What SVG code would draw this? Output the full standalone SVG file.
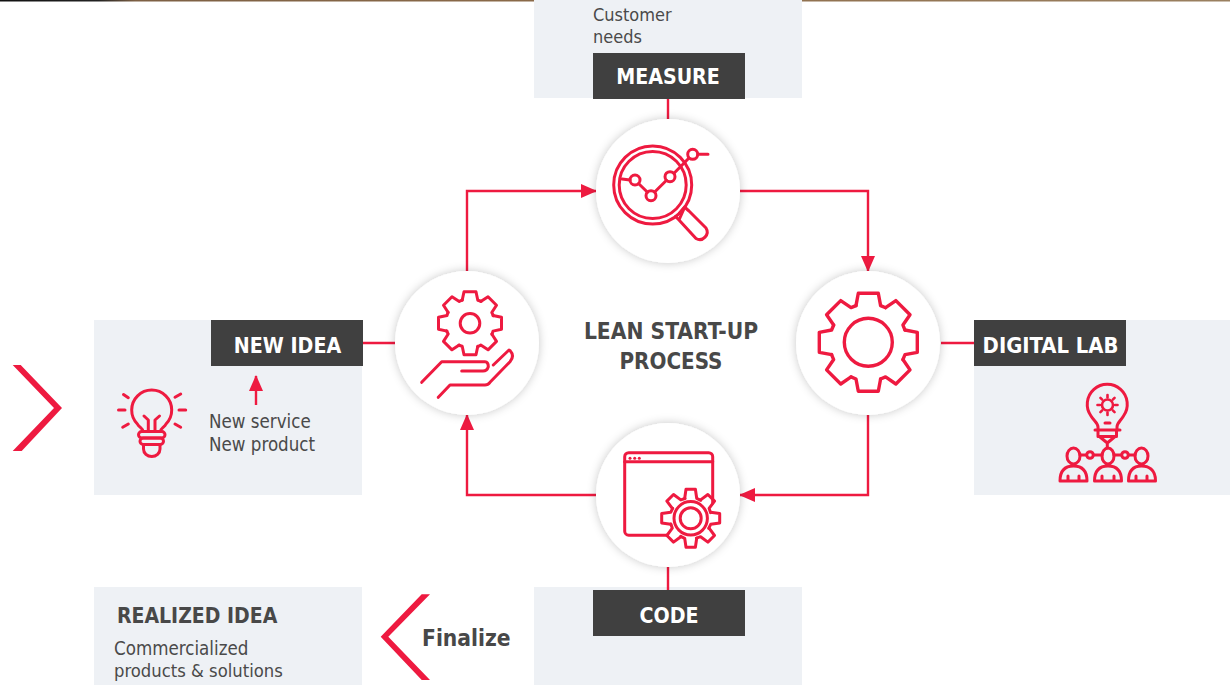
<svg xmlns="http://www.w3.org/2000/svg" xmlns:xlink="http://www.w3.org/1999/xlink" width="1230" height="685" viewBox="0 0 1230 685">
<style>
.panel{fill:#eef1f5}
.tag{fill:#404040}
.tagt{font:bold 21.2px "DejaVu Sans Condensed","DejaVu Sans",sans-serif;fill:#fff;text-anchor:middle}
.head{font:bold 21px "DejaVu Sans Condensed","DejaVu Sans",sans-serif;fill:#484848}
.body{font:18.6px "DejaVu Sans Condensed","DejaVu Sans",sans-serif;fill:#4a4a4a}
.disc{fill:#fff;filter:url(#sh)}
.ic{fill:none;stroke:#ee1a40;stroke-width:3;stroke-linecap:round;stroke-linejoin:round}
.link{fill:none;stroke:#ee1a40;stroke-width:2.4}
.red{fill:#ee1a40}
</style>
<defs>
<filter id="sh" x="-20%" y="-20%" width="140%" height="140%"><feDropShadow dx="0" dy="0" stdDeviation="5" flood-color="#000" flood-opacity="0.22"/></filter>
<linearGradient id="strip" x1="0" x2="1" y1="0" y2="0"><stop offset="0" stop-color="#111"/><stop offset="0.08" stop-color="#222"/><stop offset="0.11" stop-color="#7d6044"/><stop offset="0.5" stop-color="#8d6c4a"/><stop offset="1" stop-color="#9a8060"/></linearGradient>
<marker id="arr" markerUnits="userSpaceOnUse" markerWidth="16" markerHeight="14" refX="15" refY="7" orient="auto"><path d="M0 0L16 7L0 14Z" fill="#ee1a40"/></marker>
<path id="t1" d="M-12.3-36.7L-10-49H10L12.3-36.7L17.3-34.6"/>
<path id="t2" d="M-7.8-23L-6-31.5H6L7.8-23L11.2-22"/>
<path id="t3" d="M-6-20L-4.7-29H4.7L6-20L10-18"/>
<path id="t4" d="M0-7.500V-10"/>
</defs>
<rect x="0" y="0" width="1230" height="1.500" fill="url(#strip)"/>
<rect class="panel" x="534" y="0" width="268" height="98"/>
<rect class="panel" x="94" y="320" width="268" height="175"/>
<rect class="panel" x="974" y="320" width="256" height="175"/>
<rect class="panel" x="534" y="587" width="268" height="98"/>
<rect class="panel" x="94" y="587" width="268" height="98"/>
<g id="connectors">
<path class="link" d="M668 98V120"/>
<path class="link" d="M362 343H395"/>
<path class="link" d="M941 343H974"/>
<path class="link" d="M668 567V590"/>
<path class="link" d="M467 271V191H596" marker-end="url(#arr)"/>
<path class="link" d="M740 191H868V271" marker-end="url(#arr)"/>
<path class="link" d="M868 415V495H740" marker-end="url(#arr)"/>
<path class="link" d="M596 495H467V415" marker-end="url(#arr)"/>
<path class="link" d="M256 405V376" marker-end="url(#arr)"/>
</g>
<g id="measure">
<text class="body" x="593" y="21" style="font-size:18px">Customer</text>
<text class="body" x="593" y="43" style="font-size:18px">needs</text>
<rect class="tag" x="593" y="53" width="152" height="46"/>
<text class="tagt" x="668" y="84">MEASURE</text>
</g>
<g id="new-idea">
<rect class="tag" x="211" y="320" width="152" height="46"/>
<text class="tagt" x="287.500" y="353">NEW IDEA</text>
<text class="body" x="209" y="428">New service</text>
<text class="body" x="209" y="451">New product</text>
<g class="ic">
<path d="M143 431.500C143 428 139 427.500 137.400 424A20 20 0 1 1 166 424C164.500 427.500 160.500 428 160.500 431.500"/>
<path d="M144 416L148.300 420V431M155 431V420L159.500 416"/>
<rect x="138.500" y="431.500" width="26.500" height="6.500" rx="3.200"/>
<rect x="140" y="438" width="23.500" height="6.500" rx="3.200"/>
<path d="M143.500 445V449A8.200 7.500 0 0 0 160 449V445"/>
<path d="M123.500 394.500L128.300 397.700M118.500 410H125M122.700 427.300L128.300 424M175 397.300L180.700 394M179 410H185.700M175 424L180.700 427.300"/>
</g>
</g>
<g id="digital-lab">
<rect class="tag" x="974" y="320" width="152" height="46"/>
<text class="tagt" x="1050.500" y="353" style="font-size:21.800px">DIGITAL LAB</text>
<g class="ic">
<path d="M1098 430V427C1098 423 1094 421 1091 416A20 20 0 1 1 1123.500 416C1120.500 421 1117 423 1117 427V430"/>
<path d="M1095 430H1120M1098 430V436.500H1116.500V430M1100 437L1107.300 443L1114.500 437M1107.300 443V448M1105 423H1110"/>
<ellipse cx="1073.500" cy="456" rx="6.500" ry="8"/>
<ellipse cx="1108" cy="456" rx="6" ry="8"/>
<ellipse cx="1141.500" cy="456" rx="6.500" ry="8"/>
<circle cx="1090" cy="455" r="3.300"/>
<circle cx="1125" cy="455" r="3.300"/>
<path d="M1080 455H1086.700M1093.300 455H1102M1114 455H1121.700M1128.300 455H1135"/>
<path d="M1060 481C1060 469 1067 466 1073.500 466C1080 466 1087 469 1087 481ZM1068 481V476M1079 481V476"/>
<path d="M1094.500 481C1094.500 469 1101 466 1108 466C1115 466 1121.500 469 1121.500 481ZM1102 481V476M1114 481V476"/>
<path d="M1128.500 481C1128.500 469 1135 466 1141.500 466C1148 466 1155.500 469 1155.500 481ZM1136 481V476M1147 481V476"/>
<g transform="translate(1107.500 405)" style="stroke-width:2.600px">
<circle r="5.500"/>
<use xlink:href="#t4"/><use xlink:href="#t4" transform="rotate(45)"/><use xlink:href="#t4" transform="rotate(90)"/><use xlink:href="#t4" transform="rotate(135)"/><use xlink:href="#t4" transform="rotate(180)"/><use xlink:href="#t4" transform="rotate(225)"/><use xlink:href="#t4" transform="rotate(270)"/><use xlink:href="#t4" transform="rotate(315)"/>
</g>
</g>
</g>
<g id="code">
<rect class="tag" x="593" y="590" width="152" height="46"/>
<text class="tagt" x="669" y="623">CODE</text>
</g>
<g id="realized-idea">
<text class="head" x="117" y="623">REALIZED IDEA</text>
<text class="body" x="114" y="655">Commercialized</text>
<text class="body" x="114" y="677" style="font-size:18.300px">products &amp; solutions</text>
</g>
<g id="finalize">
<polygon class="red" points="421.700,594.300 430,594.300 388.300,636.700 430,680 421.700,680 380.700,636.700"/>
<text class="head" x="422" y="646" style="font-size:22.600px">Finalize</text>
</g>
<polygon id="chevron" class="red" points="12.700,365 20.700,365 62,408 21.700,451 12.700,451 54,408"/>
<text class="head" x="671" y="339" text-anchor="middle" style="font-size:22.600px">LEAN START-UP</text>
<text class="head" x="671" y="369" text-anchor="middle" style="font-size:22.200px">PROCESS</text>
<g id="step-measure">
<circle class="disc" cx="668" cy="191" r="72"/>
<g class="ic">
<circle cx="652.700" cy="185" r="39"/>
<circle cx="652.700" cy="185" r="33.500"/>
<path d="M622 179L630 180M638.500 183.500L647.500 192.300M654.700 192L666.500 180.300M674 173.300L689 158M698 154.300H708"/>
<circle cx="635" cy="180" r="5"/><circle cx="651" cy="195.700" r="5"/><circle cx="670" cy="176.700" r="5"/><circle cx="692.700" cy="154.300" r="5"/>
<path d="M675.500 216.500L679 220M685 206.500L679.500 213L685 207.500L689 211L706 228A7.500 7.500 0 0 1 696 238.500L679 220Z"/>
</g>
</g>
<g id="step-new-idea">
<circle class="disc" cx="467" cy="343" r="72"/>
<g class="ic">
<g transform="translate(470 323.300)">
<circle r="9.800"/>
<use xlink:href="#t2"/><use xlink:href="#t2" transform="rotate(45)"/><use xlink:href="#t2" transform="rotate(90)"/><use xlink:href="#t2" transform="rotate(135)"/><use xlink:href="#t2" transform="rotate(180)"/><use xlink:href="#t2" transform="rotate(225)"/><use xlink:href="#t2" transform="rotate(270)"/><use xlink:href="#t2" transform="rotate(315)"/>
</g>
<path d="M421.700 382.300L441.700 361.700H485Q488.300 361.700 488.300 366.700Q487 371 483 371H461.700"/>
<path d="M438.300 397.300L450 385H485Q488 385 490 382.300L510 361.700Q515 356 510 350.500L509 350L493.300 365"/>
</g>
</g>
<g id="step-digital-lab">
<circle class="disc" cx="868" cy="343" r="72"/>
<g class="ic" transform="translate(868.300 342.300)" style="stroke-width:3.400px">
<circle r="24"/>
<use xlink:href="#t1"/><use xlink:href="#t1" transform="rotate(45)"/><use xlink:href="#t1" transform="rotate(90)"/><use xlink:href="#t1" transform="rotate(135)"/><use xlink:href="#t1" transform="rotate(180)"/><use xlink:href="#t1" transform="rotate(225)"/><use xlink:href="#t1" transform="rotate(270)"/><use xlink:href="#t1" transform="rotate(315)"/>
</g>
</g>
<g id="step-code">
<circle class="disc" cx="668" cy="495" r="72"/>
<g class="ic">
<path d="M712.700 503V456.700A4 4 0 0 0 708.700 452.700H628.700A4 4 0 0 0 624.700 456.700V531.200A4 4 0 0 0 628.700 535.200H667"/>
<path d="M624.700 461.700H712.700"/>
<g transform="translate(690.700 518.300)">
<circle r="16.700"/><circle r="10.500"/>
<use xlink:href="#t3"/><use xlink:href="#t3" transform="rotate(45)"/><use xlink:href="#t3" transform="rotate(90)"/><use xlink:href="#t3" transform="rotate(135)"/><use xlink:href="#t3" transform="rotate(180)"/><use xlink:href="#t3" transform="rotate(225)"/><use xlink:href="#t3" transform="rotate(270)"/><use xlink:href="#t3" transform="rotate(315)"/>
</g>
</g>
<circle class="red" cx="630" cy="458.300" r="1.500"/><circle class="red" cx="634.700" cy="458.300" r="1.500"/><circle class="red" cx="639.300" cy="458.300" r="1.500"/>
</g>
</svg>
